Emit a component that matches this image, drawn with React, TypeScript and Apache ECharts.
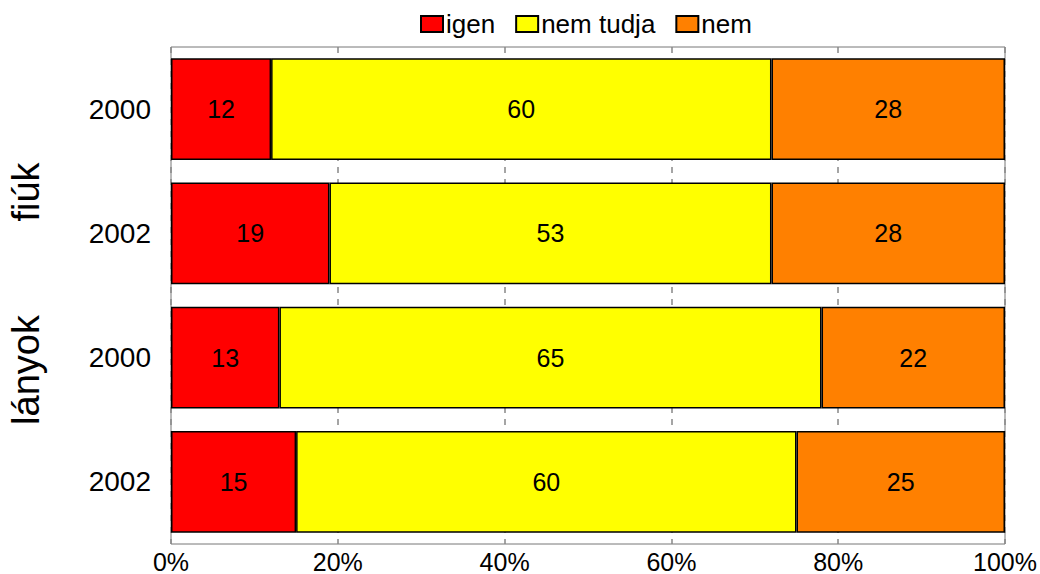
import React, { useEffect, useRef } from "react";
import * as echarts from "echarts";

const categories = ["2000", "2002", "2000", "2002"];
const groups = ["fiúk", "lányok"];
const igen = [12, 19, 13, 15];
const nemTudja = [60, 53, 65, 60];
const nem = [28, 28, 22, 25];
const seriesNames = ["igen", "nem tudja", "nem"];
const colors = ["#FF0000", "#FFFF00", "#FF8000"];

export default function App() {
  const ref = useRef<HTMLDivElement>(null);
  useEffect(() => {
    if (!ref.current) return;
    const chart = echarts.init(ref.current, null, { renderer: "svg" });
    const font = "Liberation Sans, Arial, sans-serif";
    const mk = (name: string, data: number[], color: string) => ({
      name,
      type: "bar",
      stack: "total",
      data,
      barWidth: "82%",
      itemStyle: { color, borderColor: "#000", borderWidth: 1.5 },
      label: {
        show: true,
        position: "inside",
        color: "#000",
        fontSize: 25,
        fontFamily: font,
      },
    });
    chart.setOption({
      animation: false,
      textStyle: { fontFamily: font },
      legend: {
        top: 6,
        left: 415,
        itemWidth: 22,
        itemHeight: 16,
        itemGap: 20,
        icon: "rect",
        textStyle: { fontSize: 26, color: "#000", fontFamily: font, padding: [0, 0, 0, -2] },
        data: seriesNames,
      },
      grid: {
        left: 171,
        right: 35,
        top: 47,
        bottom: 26,
        show: true,
        borderColor: "#777",
        borderWidth: 1,
        containLabel: false,
      },
      xAxis: {
        type: "value",
        min: 0,
        max: 100,
        interval: 20,
        axisLine: { show: false },
        axisTick: { show: false },
        splitLine: { show: true, lineStyle: { color: "#888", type: [6, 6], width: 1.5 } },
        axisLabel: {
          formatter: "{value}%",
          fontSize: 25,
          color: "#000",
          margin: 5,
          fontFamily: font,
        },
      },
      yAxis: {
        type: "category",
        inverse: true,
        data: categories,
        axisLine: { show: false },
        axisTick: { show: false },
        axisLabel: { fontSize: 28, color: "#000", margin: 20, fontFamily: font },
      },
      graphic: [
        {
          type: "text",
          x: 26,
          y: 192,
          rotation: Math.PI / 2,
          style: {
            text: groups[0],
            fontSize: 38,
            fill: "#000",
            fontFamily: font,
            align: "center",
            verticalAlign: "middle",
          },
        },
        {
          type: "text",
          x: 26,
          y: 370,
          rotation: Math.PI / 2,
          style: {
            text: groups[1],
            fontSize: 38,
            fill: "#000",
            fontFamily: font,
            align: "center",
            verticalAlign: "middle",
          },
        },
      ],
      series: [
        mk(seriesNames[0], igen, colors[0]),
        mk(seriesNames[1], nemTudja, colors[1]),
        mk(seriesNames[2], nem, colors[2]),
      ],
    });
    return () => chart.dispose();
  }, []);
  return (
    <div
      ref={ref}
      style={{ position: "fixed", left: 0, top: 0, width: 1040, height: 574, background: "#fff" }}
    />
  );
}
